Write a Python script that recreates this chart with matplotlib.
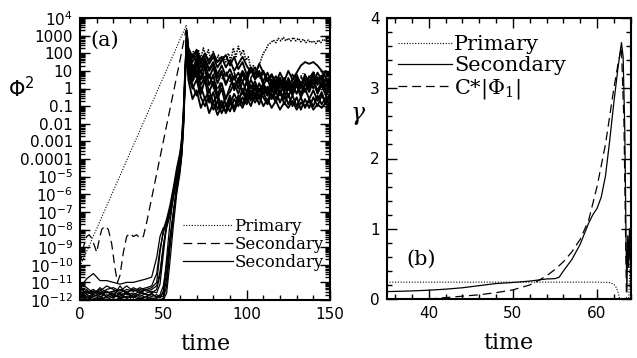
import numpy as np
import matplotlib as mpl
import matplotlib.pyplot as plt
from matplotlib.font_manager import FontProperties
from matplotlib.ticker import FixedLocator, LogLocator, MultipleLocator, NullFormatter

mpl.rcParams["font.family"] = "DejaVu Sans"
mpl.rcParams["mathtext.fontset"] = "dejavusans"

# ── Panel (a): Phi^2 vs time (log10 values) ──────────────────────────
# primary, linear growth phase
prim_t = [0, 63.8, 64.2]
prim_log = [-10.1, 3.6, 2.6]
# primary, saturated phase
prim_late_t = np.arange(65, 150, 1.5)
prim_late_log = [2.2, 1.6, 2.1, 1.5, 2.2, 1.7, 2.3, 1.8, 2.2, 1.6, 2.1, 1.5,
                 1.9, 1.4, 1.8, 1.5, 2.0, 1.6, 2.3, 1.8, 2.4, 1.9, 2.2, 1.6,
                 1.8, 1.1, 1.3, 0.8, 1.2, 1.6, 2.0, 2.2, 2.5, 2.6, 2.75, 2.6,
                 2.85, 2.7, 2.9, 2.7, 2.85, 2.7, 2.9, 2.7, 2.85, 2.65, 2.8, 2.6,
                 2.75, 2.6, 2.7, 2.55, 2.75, 2.6, 2.8, 2.7, 2.9]
# faint dotted harmonic inside the late hump
prim2_t = [125, 128, 131, 134, 137, 140, 143, 146, 149]
prim2_log = [0.3, 0.6, 0.4, 0.9, 0.5, 1.0, 0.6, 0.9, 0.5]

# dashed secondary
dash_t = [0, 2, 4, 5.5, 7, 9, 10, 11.5, 13, 15, 17, 19, 21, 22.5, 24, 26, 28,
          30, 32, 34, 36, 38, 40, 45, 50, 55, 60, 63.5]
dash_log = [-10.0, -9.0, -8.4, -8.3, -8.5, -9.0, -9.3, -8.6, -8.0, -7.8, -8.0,
            -8.8, -10.2, -11.0, -10.6, -9.3, -8.4, -8.2, -8.4, -8.3, -8.5, -8.4,
            -7.6, -5.3, -3.0, -0.7, 1.6, 3.3]
dash_late_log = [1.6, 0.8, 1.3, 0.5, 1.0, 0.2, 0.7, -0.1, 0.5, 1.0, 0.4, 0.9,
                 0.3, 0.8, 0.2, 0.6, 1.0, 0.5, 0.9, 0.3, 0.7, 0.1, 0.5, 0.0,
                 0.4, 0.8, 0.3, 0.7, 0.2, 0.6, 0.9, 0.5, 0.8, 0.3, 0.6]

# solid secondaries
sec_t = [0, 4, 8, 12, 16, 20, 24, 28, 32, 36, 40, 43, 46, 48, 50, 52, 54, 56,
         58, 60, 61, 62, 63, 64]
sec_log = [
    [-11.3, -10.8, -10.5, -10.9, -10.9, -11.0, -11.1, -11.0, -11.0, -10.9, -10.8, -10.7,
     -9.6, -8.4, -7.9, -7.8, -7.0, -5.9, -4.8, -3.9, -3.1, -1.6, 0.9, 3.2],
    [-11.6, -11.5, -11.7, -11.3, -11.6, -11.5, -11.4, -11.6, -11.3, -11.5, -11.4, -11.3,
     -11.0, -9.3, -8.0, -7.4, -6.6, -5.6, -4.5, -3.6, -2.8, -1.2, 1.2, 3.0],
    [-11.9, -11.4, -11.8, -11.9, -11.5, -11.8, -11.2, -11.7, -11.6, -11.8, -11.6, -11.5,
     -11.6, -11.1, -9.4, -7.7, -6.8, -5.9, -5.0, -4.0, -3.2, -1.8, 0.6, 2.7],
    [-11.5, -11.9, -11.6, -11.4, -11.9, -11.7, -11.8, -11.5, -11.9, -11.6, -11.7, -11.7,
     -11.8, -11.9, -11.5, -9.6, -7.6, -6.2, -5.1, -4.2, -3.4, -2.0, 0.4, 2.9],
    [-11.2, -11.7, -11.9, -12.0, -11.8, -11.6, -11.9, -11.8, -11.7, -11.9, -11.8, -11.9,
     -11.9, -11.7, -11.2, -10.0, -8.4, -7.0, -5.6, -4.5, -3.6, -2.2, 0.2, 2.6],
    [-11.7, -12.0, -11.7, -11.8, -11.7, -11.9, -11.6, -11.9, -11.8, -11.7, -11.9, -12.0,
     -12.0, -12.0, -11.9, -11.2, -9.0, -7.3, -5.8, -4.6, -3.8, -2.4, 0.1, 2.5],
    [-11.4, -11.6, -11.5, -11.6, -11.4, -11.3, -11.5, -11.2, -11.5, -11.3, -11.5, -11.4,
     -11.2, -10.4, -8.9, -7.9, -7.2, -6.2, -5.3, -4.1, -3.3, -1.9, 0.8, 3.1],
    [-12.0, -11.8, -12.0, -11.9, -12.0, -12.0, -11.9, -12.0, -12.0, -11.9, -12.0, -11.9,
     -12.0, -12.0, -12.0, -11.6, -9.8, -7.8, -6.0, -4.8, -3.9, -2.5, -0.2, 2.4],
    [-11.8, -11.6, -11.4, -11.7, -11.5, -11.7, -11.9, -11.6, -11.4, -11.6, -11.4, -11.6,
     -11.4, -10.6, -9.0, -7.6, -6.9, -5.8, -4.9, -4.0, -3.3, -1.7, 0.7, 2.9],
    [-11.6, -12.0, -11.8, -11.6, -11.8, -11.5, -11.7, -11.9, -11.7, -11.5, -11.7, -11.8,
     -11.7, -11.8, -11.8, -10.8, -8.8, -7.1, -5.7, -4.5, -3.7, -2.3, 0.3, 2.7],
    [-11.0, -11.3, -11.6, -11.5, -11.2, -11.4, -11.6, -11.4, -11.5, -11.4, -11.3, -11.2,
     -10.5, -9.1, -8.2, -7.5, -6.8, -5.8, -4.7, -3.7, -2.9, -1.4, 1.0, 3.3],
    [-11.9, -11.7, -11.5, -11.8, -12.0, -11.8, -11.7, -11.6, -11.8, -12.0, -11.8, -11.6,
     -11.9, -11.8, -11.6, -10.4, -8.6, -7.2, -5.5, -4.4, -3.5, -2.1, 0.5, 2.8],
]
late_t = np.arange(65, 151, 2.5)
sec_late_log = [
    [2.3, 1.8, 2.2, 1.6, 2.0, 1.4, 1.8, 1.2, 1.6, 1.9, 1.3, 1.8, 1.1, 1.5, 0.8, 1.2,
     0.6, 1.0, 0.4, 0.9, 0.3, 0.7, 0.2, 0.6, 0.1, 0.5, 0.9, 1.3, 1.5, 1.4, 1.5, 1.3,
     1.0, 0.6, 0.2],
    [1.8, 0.9, 1.5, 0.5, 1.2, 0.2, 0.8, -0.4, 0.3, -0.6, 0.1, 0.7, 0.0, 0.9, 0.4, 1.1,
     0.5, 0.9, 0.2, 0.6, -0.2, 0.4, -0.4, 0.3, -0.5, 0.2, -0.3, 0.4, -0.2, 0.5, 0.0,
     0.6, 0.1, 0.5, -0.1],
    [1.2, 0.4, 0.9, -0.3, 0.5, -0.8, -0.2, -1.2, -0.7, -1.4, -0.9, -0.3, -0.8, 0.0,
     -0.5, 0.2, -0.4, 0.3, -0.3, 0.1, -0.6, -0.1, -0.8, -0.2, -0.9, -0.4, -1.0, -0.5,
     -1.1, -0.6, -1.0, -0.4, -0.9, -0.5, -1.1],
    [2.0, 1.3, 0.6, 1.0, 0.3, 0.8, 0.1, -0.5, -1.0, -1.3, -0.8, -1.2, -0.6, -0.2, -0.7,
     -0.1, -0.6, 0.0, -0.5, -0.9, -0.3, -0.8, -0.1, -0.6, 0.1, -0.4, 0.2, -0.3, 0.3,
     -0.2, 0.4, -0.3, 0.2, -0.4, 0.0],
    [1.5, 0.7, 1.3, 0.9, 1.6, 1.0, 1.4, 0.6, 1.0, 0.3, 0.7, 0.0, 0.5, 1.0, 0.6, 1.2,
     0.8, 1.4, 0.9, 0.4, 0.8, 0.2, 0.6, 0.0, 0.4, -0.2, 0.3, -0.3, 0.2, 0.7, 0.3, 0.9,
     0.5, 1.0, 0.6],
    [0.8, 0.0, 0.5, -0.5, -1.0, -0.4, -1.2, -0.7, -1.4, -0.9, -1.3, -0.6, -1.0, -0.5,
     -0.9, -0.3, -0.8, -0.4, -1.0, -0.6, -1.1, -0.7, -1.2, -0.8, -1.1, -0.7, -1.2,
     -0.8, -1.0, -0.7, -1.2, -0.9, -1.1, -0.8, -1.2],
    [2.1, 1.5, 1.9, 1.2, 1.7, 1.1, 1.5, 0.8, 1.3, 0.7, 1.1, 0.5, 0.9, 0.4, 0.7, 0.0,
     0.4, -0.2, 0.3, -0.3, 0.1, 0.5, 0.0, 0.4, -0.1, 0.3, 0.6, 0.1, 0.5, 0.0, 0.4,
     -0.1, 0.3, -0.2, 0.2],
    [1.0, 0.2, -0.4, 0.1, -0.6, -0.1, -0.8, -0.3, -1.1, -0.5, -0.2, 0.3, -0.3, 0.4,
     -0.2, 0.5, 0.0, -0.5, 0.0, -0.4, 0.2, -0.3, 0.3, -0.2, 0.4, -0.1, 0.5, 0.0, 0.6,
     0.1, 0.7, 0.2, 0.6, 0.1, 0.5],
    [1.9, 1.1, 1.7, 0.9, 1.4, 0.6, 1.2, 0.3, 0.9, 0.2, 0.8, -0.1, 0.6, -0.3, 0.4, -0.5,
     0.2, -0.6, 0.1, -0.4, 0.3, -0.2, 0.5, -0.1, 0.6, 0.0, 0.7, 0.1, 0.8, 0.2, 0.9,
     0.3, 0.7, 0.1, 0.4],
    [0.5, -0.6, -0.1, -1.1, -0.5, -1.4, -0.8, -1.5, -1.0, -1.3, -0.6, -1.1, -0.4, -0.9,
     -0.2, -0.7, 0.1, -0.5, 0.3, -0.2, 0.5, 0.0, 0.6, -0.1, 0.4, -0.3, 0.2, -0.5, 0.0,
     -0.6, -0.1, -0.7, -0.2, -0.9, -0.4],
    [2.2, 1.7, 2.1, 1.4, 1.9, 1.6, 2.0, 1.5, 1.8, 1.2, 1.6, 1.0, 1.4, 1.8, 1.3, 0.9,
     1.2, 0.7, 1.0, 0.5, 0.8, 0.3, 0.9, 0.4, 1.0, 0.5, 0.8, 0.2, 0.6, 0.0, 0.5, -0.2,
     0.4, -0.1, 0.3],
    [1.4, 0.6, 1.1, 0.2, 0.7, -0.2, 0.4, -0.6, 0.0, -1.0, -0.4, -1.3, -0.7, -1.1, -0.5,
     -1.0, -0.3, -0.9, -0.2, -0.8, 0.0, -0.6, -0.1, -0.9, -0.3, -1.0, -0.5, -1.2, -0.6,
     -1.1, -0.5, -1.0, -0.4, -0.8, -0.3],
]

yticks_a = [10.0**k for k in range(-12, 5)]
ylabels_a = [r"$\mathregular{10^{%d}}$" % k for k in range(-12, -4)] + [
    "0.0001", "0.001", "0.01", "0.1", "1", "10", "100", "1000",
    r"$\mathregular{10^{4}}$"]

# ── Panel (b): growth rate gamma vs time ──────────────────────────────
gp_t = [35, 40, 45, 50, 55, 60, 61.5, 62, 62.3, 62.5, 62.7, 63.0, 63.7, 63.9, 64.1]
gp = [0.24, 0.24, 0.24, 0.24, 0.24, 0.24, 0.235, 0.21, 0.16, 0.09, 0.0, -0.4,
      -0.3, 0.5, 0.4]
gs_t = [35, 38, 40, 42, 44, 46, 48, 50, 52, 53, 54, 55, 55.5, 56, 57, 58, 59,
        59.5, 60, 60.5, 61, 61.5, 62, 62.5, 62.9, 63.1, 63.3, 63.45, 63.55,
        63.65, 63.75, 63.85, 63.95, 64.1]
gs = [0.105, 0.115, 0.125, 0.14, 0.16, 0.19, 0.22, 0.235, 0.255, 0.27, 0.285,
      0.29, 0.31, 0.4, 0.56, 0.78, 1.08, 1.2, 1.29, 1.45, 1.75, 2.25, 2.8, 3.3,
      3.65, 3.45, 2.4, 0.8, 0.1, 0.9, 0.45, 1.0, 0.55, 0.7]
gc_t = [35, 38, 40, 42, 44, 46, 48, 50, 52, 53, 54, 55, 56, 57, 58, 59, 60, 61,
        62, 62.5, 62.9, 63.2, 63.5]
gc = [-0.02, -0.01, 0.0, 0.02, 0.04, 0.06, 0.09, 0.13, 0.2, 0.26, 0.33, 0.42,
      0.53, 0.67, 0.85, 1.12, 1.6, 2.2, 3.0, 3.35, 3.58, 2.5, 0.0]

serif = "DejaVu Serif"
fig = plt.figure(figsize=(6.37, 3.58), dpi=100)
ax1 = fig.add_axes([80 / 637, 1 - 300 / 358, 250 / 637, 282 / 358])
ax2 = fig.add_axes([386.7 / 637, 1 - 299 / 358, 244 / 637, 281 / 358])

lw = 0.9
dots = (0, (1, 1.5))
dashes = (0, (7, 4))
ax1.plot(prim_t, 10.0 ** np.array(prim_log), color="black", lw=0.8, ls=dots)
ax1.plot(prim_late_t, 10.0 ** np.array(prim_late_log), color="black", lw=1.1,
         ls=(0, (1, 0.8)))
ax1.plot(prim2_t, 10.0 ** np.array(prim2_log), color="black", lw=0.7, ls=dots)
ax1.plot(dash_t, 10.0 ** np.array(dash_log), color="black", lw=lw, ls=dashes)
ax1.plot(late_t, 10.0 ** np.array(dash_late_log), color="black", lw=1.2, ls=(0, (4, 2)))
for early, late in zip(sec_log, sec_late_log):
    ax1.plot(sec_t, 10.0 ** np.array(early), color="black", lw=lw)
    ax1.plot([sec_t[-1]] + list(late_t), 10.0 ** np.array([early[-1]] + late),
             color="black", lw=1.35)

h1 = ax1.plot([], [], color="black", lw=0.8, ls=dots)[0]
h2 = ax1.plot([], [], color="black", lw=lw, ls=dashes)[0]
h3 = ax1.plot([], [], color="black", lw=lw)[0]
ax1.legend([h1, h2, h3], ["Primary", "Secondary", "Secondary"],
           loc="upper left", bbox_to_anchor=(0.41, 0.29), frameon=False,
           borderpad=0, borderaxespad=0, handlelength=3.0, handletextpad=0.1,
           labelspacing=0.05, prop=FontProperties(family=serif, size=12))

ax1.set_yscale("log")
ax1.set_xlim(0, 150)
ax1.set_ylim(1e-12, 1e4)
ax1.yaxis.set_major_locator(FixedLocator(yticks_a))
ax1.set_yticklabels(ylabels_a)
ax1.yaxis.set_minor_locator(LogLocator(base=10, subs=np.arange(2, 10), numticks=100))
ax1.yaxis.set_minor_formatter(NullFormatter())
ax1.xaxis.set_major_locator(MultipleLocator(50))
ax1.xaxis.set_minor_locator(MultipleLocator(10))
ax1.text(6, 10**2.75, "(a)", fontsize=15, family=serif, va="center")
ax1.set_xlabel("time", family=serif, fontsize=16, labelpad=8)
ax1.set_ylabel(r"$\Phi^2$", fontsize=15, rotation=0, ha="center", va="center")
ax1.yaxis.set_label_coords(-0.235, 0.75)

ax2.plot(gp_t, gp, color="black", lw=0.8, ls=dots)
ax2.plot(gs_t, gs, color="black", lw=lw)
ax2.plot(gc_t, gc, color="black", lw=lw, ls=dashes)
ax2.legend(ax2.lines, ["Primary", "Secondary", r"C*|$\Phi_1$|"],
           loc="upper left", bbox_to_anchor=(0.045, 0.94), frameon=False,
           borderpad=0, borderaxespad=0, handlelength=2.6, handletextpad=0.1,
           labelspacing=0.1,
           prop=FontProperties(family=serif, size=15, math_fontfamily="dejavuserif"))
ax2.set_xlim(35, 64)
ax2.set_ylim(0, 4)
ax2.xaxis.set_major_locator(MultipleLocator(10))
ax2.xaxis.set_minor_locator(MultipleLocator(2))
ax2.yaxis.set_major_locator(MultipleLocator(1))
ax2.yaxis.set_minor_locator(MultipleLocator(0.2))
ax2.text(37.3, 0.56, "(b)", fontsize=15, family=serif, va="center")
ax2.set_xlabel("time", family=serif, fontsize=16, labelpad=8)
ax2.set_ylabel(r"$\gamma$", fontsize=17, rotation=0, ha="center", va="center",
               math_fontfamily="dejavuserif")
ax2.yaxis.set_label_coords(-0.118, 0.654)

for ax in (ax1, ax2):
    ax.tick_params(which="both", direction="in", top=True, right=True, width=1.0,
                   labelsize=11, pad=5)
    ax.tick_params(which="major", length=7)
    ax.tick_params(which="minor", length=3.5)
    for s in ax.spines.values():
        s.set_linewidth(1.5)

fig.savefig("out.png", dpi=100)
